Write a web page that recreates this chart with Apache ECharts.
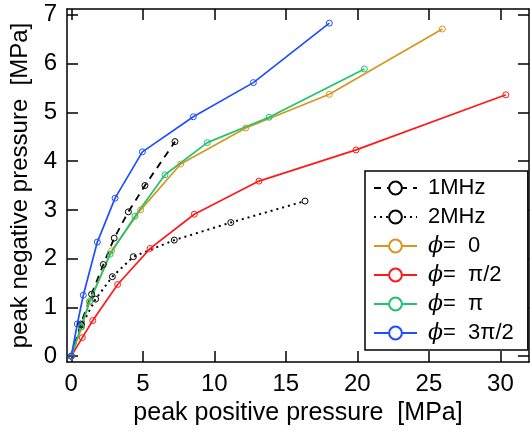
<!DOCTYPE html>
<html>
<head>
<meta charset="utf-8">
<script src="https://cdn.jsdelivr.net/npm/echarts@6/dist/echarts.min.js"></script>
<style>html,body{margin:0;padding:0;background:#fff}#c{width:530px;height:432px}</style>
</head>
<body>
<div id="c"></div>
<script>
var xTicks = [0, 5, 10, 15, 20, 25, 30];
var yTicks = [0, 1, 2, 3, 4, 5, 6, 7];

var mhz1X = [0, 0.66, 1.42, 2.24, 3.0, 3.99, 5.15, 7.25];
var mhz1Y = [0, 0.66, 1.27, 1.88, 2.42, 2.96, 3.5, 4.4];
var mhz2X = [0, 0.73, 1.7, 2.87, 4.34, 7.2, 11.15, 16.34];
var mhz2Y = [0, 0.64, 1.17, 1.63, 2.04, 2.38, 2.74, 3.18];
var phi0X = [0, 0.73, 1.26, 2.82, 4.85, 7.65, 12.2, 18.04, 25.94];
var phi0Y = [0, 0.6, 1.11, 2.16, 3.0, 3.94, 4.68, 5.37, 6.71];
var phiHalfX = [0, 0.77, 1.5, 3.24, 5.52, 8.6, 13.12, 19.91, 30.38];
var phiHalfY = [0, 0.38, 0.73, 1.47, 2.21, 2.91, 3.59, 4.23, 5.36];
var phiPiX = [0, 0.68, 1.3, 2.71, 4.45, 6.55, 9.51, 13.83, 20.49];
var phiPiY = [0, 0.6, 1.13, 2.09, 2.87, 3.72, 4.38, 4.9, 5.89];
var phi3HalfX = [0, 0.42, 0.84, 1.82, 3.06, 4.97, 8.53, 12.73, 18.04];
var phi3HalfY = [0, 0.66, 1.25, 2.34, 3.24, 4.19, 4.91, 5.61, 6.83];

var names = ['1MHz', '2MHz', '\u03D5=  0', '\u03D5=  \u03C0/2', '\u03D5=  \u03C0', '\u03D5=  3\u03C0/2'];

function zip(xs, ys) { return xs.map(function (x, i) { return [x, ys[i]]; }); }

var FONT = 'Liberation Sans, Arial, sans-serif';

function mk(name, xs, ys, color, lineType, width) {
  return {
    name: name, type: 'line', data: zip(xs, ys),
    xAxisIndex: 0, yAxisIndex: 0,
    symbol: 'circle', symbolSize: 6,
    color: color,
    itemStyle: { color: 'rgba(255,255,255,0)', borderColor: color, borderWidth: 1 },
    lineStyle: { color: color, width: width, type: lineType },
    emphasis: { disabled: true }
  };
}

var axisCommon = {
  axisLine: { show: true, onZero: false, lineStyle: { color: '#000', width: 1.5 } },
  splitLine: { show: false }
};

var chart = echarts.init(document.getElementById('c'));
chart.setOption({
  animation: false,
  backgroundColor: '#fff',
  grid: { left: 67, right: 1, top: 9, bottom: 70 },
  xAxis: [
    Object.assign({}, axisCommon, {
      type: 'value', min: -0.3, max: 32, position: 'bottom',
      name: 'peak positive pressure  [MPa]', nameLocation: 'middle', nameGap: 33,
      nameTextStyle: { fontFamily: FONT, fontSize: 25, color: '#000' },
      axisTick: { show: true, inside: true, length: 11, customValues: xTicks, lineStyle: { color: '#000', width: 1.5 } },
      axisLabel: { show: true, customValues: xTicks, margin: 10, fontFamily: FONT, fontSize: 24, color: '#000' }
    }),
    Object.assign({}, axisCommon, {
      type: 'value', min: -0.3, max: 32, position: 'top',
      axisTick: { show: true, inside: true, length: 11, customValues: xTicks, lineStyle: { color: '#000', width: 1.5 } },
      axisLabel: { show: false, customValues: xTicks }
    })
  ],
  yAxis: [
    Object.assign({}, axisCommon, {
      type: 'value', min: -0.12, max: 7.12, position: 'left',
      name: 'peak negative pressure  [MPa]', nameLocation: 'middle', nameGap: 30, nameRotate: 90,
      nameTextStyle: { fontFamily: FONT, fontSize: 24, color: '#000' },
      axisTick: { show: true, inside: true, length: 11, customValues: yTicks, lineStyle: { color: '#000', width: 1.5 } },
      axisLabel: { show: true, customValues: yTicks, margin: 10, fontFamily: FONT, fontSize: 24, color: '#000' }
    }),
    Object.assign({}, axisCommon, {
      type: 'value', min: -0.12, max: 7.12, position: 'right',
      axisTick: { show: true, inside: true, length: 11, customValues: yTicks, lineStyle: { color: '#000', width: 1.5 } },
      axisLabel: { show: false, customValues: yTicks }
    })
  ],
  legend: {
    orient: 'vertical', left: 365, top: 171,
    data: names,
    itemWidth: 43, itemHeight: 16, itemGap: 7,
    padding: [6, 14, 6, 8],
    borderColor: '#000', borderWidth: 1.5, backgroundColor: '#fff',
    selectedMode: false,
    itemStyle: { color: '#fff' },
    textStyle: {
      fontFamily: FONT, fontSize: 22, color: '#000', lineHeight: 22, padding: [0, 0, 0, 6],
      rich: {
        i: { fontFamily: 'DejaVu Serif', fontStyle: 'italic', fontSize: 22, color: '#000', lineHeight: 22 },
        n: { fontFamily: FONT, fontSize: 22, color: '#000', lineHeight: 22 }
      }
    },
    formatter: function (n) {
      if (n.charAt(0) === '\u03D5') return '{i|\u03D5}{n|' + n.slice(1) + '}';
      return n;
    }
  },
  series: [
    mk(names[0], mhz1X, mhz1Y, '#000000', [7, 6], 1.8),
    mk(names[1], mhz2X, mhz2Y, '#000000', [2, 4], 2),
    mk(names[2], phi0X, phi0Y, '#D9961E', 'solid', 1.7),
    mk(names[3], phiHalfX, phiHalfY, '#FF1A1A', 'solid', 1.7),
    mk(names[4], phiPiX, phiPiY, '#1EC46E', 'solid', 1.7),
    mk(names[5], phi3HalfX, phi3HalfY, '#1F4FFF', 'solid', 1.7)
  ]
});
</script>
</body>
</html>
